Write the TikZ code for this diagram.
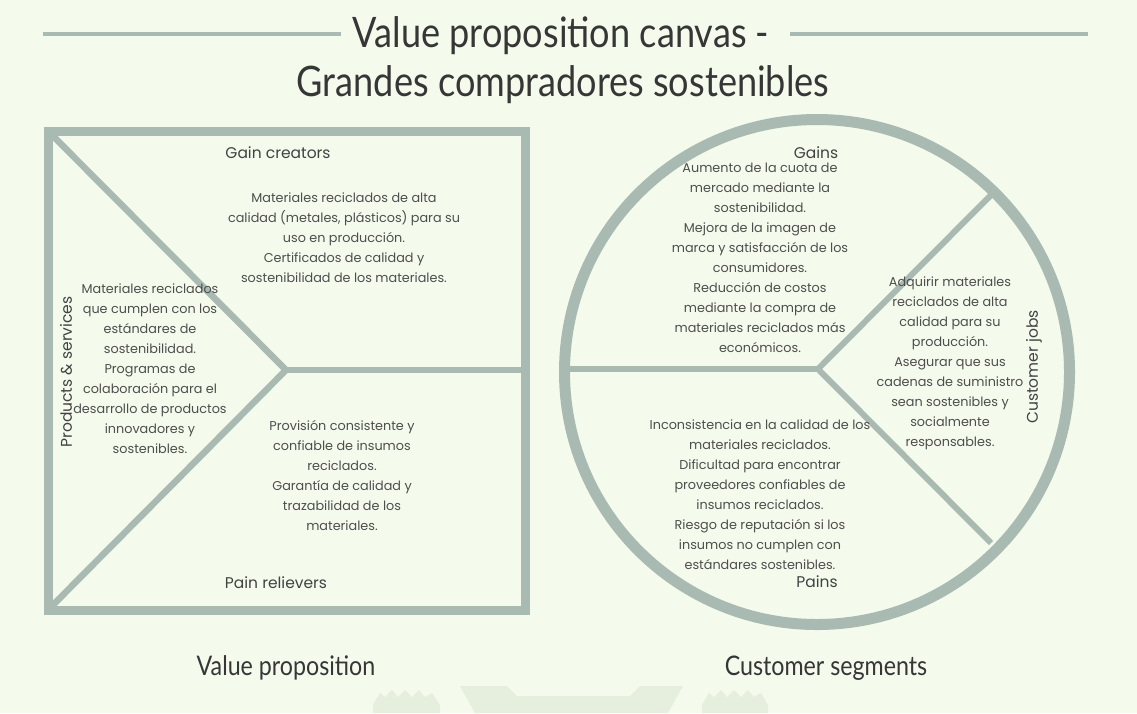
\documentclass[tikz,border=0pt]{standalone}
\usepackage{fontspec}
\setmainfont{Poppins}
\newfontfamily\titlefont{Lato}
\usetikzlibrary{positioning}
\definecolor{canvasbg}{HTML}{F4FAEC}
\definecolor{canvasline}{HTML}{A9BAB3}
\definecolor{canvastext}{HTML}{4E4E4E}
\definecolor{titletext}{HTML}{363636}
\definecolor{markfill}{HTML}{E6EEDD}

\begin{document}
\begin{tikzpicture}[x=1pt, y=-1pt,
  divider/.style={draw=canvasline, line width=6.5pt},
  blocktext/.style={align=center, text=canvastext, inner sep=0pt, font=\fontsize{12.8}{20}\selectfont},
  zonelabel/.style={text=canvastext!85!black, inner sep=0pt, font=\fontsize{15.5}{17}\selectfont},
  bigtitle/.style={text=titletext, inner sep=0pt, font=\titlefont\fontsize{42}{46}\selectfont},
  sectiontitle/.style={text=titletext, inner sep=0pt, font=\titlefont\fontsize{27}{30}\selectfont}]

\fill[canvasbg] (0,0) rectangle (1137,713);
\useasboundingbox (0,0) rectangle (1137,713);

% title
\node[bigtitle] (title) at (561,36) {\scalebox{0.86}[1]{Value proposition canvas -}};
\node[bigtitle] (subtitle) at (563,85) {\scalebox{0.86}[1]{Grandes compradores sostenibles}};
\coordinate (ruleLa) at (43,34);
\coordinate (ruleLb) at (341,34);
\coordinate (ruleRa) at (790,34);
\coordinate (ruleRb) at (1088,34);
\draw[canvasline, line width=3.5pt] (ruleLa) -- (ruleLb);
\draw[canvasline, line width=3.5pt] (ruleRa) -- (ruleRb);

% value proposition square
\coordinate (vpNW) at (48,131);
\coordinate (vpSE) at (525,610);
\draw[canvasline, line width=9pt] (vpNW) rectangle (vpSE);
\coordinate (vpTip) at (286,370);
\coordinate (vpTopIn) at (52,135);
\coordinate (vpBotIn) at (52,606);
\coordinate (vpRight) at (521,370);
\draw[divider] (vpTopIn) -- (vpTip) -- (vpBotIn);
\draw[divider] (vpTip) -- (vpRight);

% customer segment circle
\coordinate (csC) at (817,372);
\draw[canvasline, line width=11pt] (csC) circle (252.5);
\coordinate (csTip) at (818,369);
\coordinate (csLeft) at (568,369);
\coordinate (csUp) at (991,195);
\coordinate (csDown) at (991,543);
\draw[divider, line width=6pt] (csLeft) -- (csTip);
\draw[divider, line width=6pt] (csUp) -- (csTip) -- (csDown);

% labels
\node[zonelabel] (gaincreators) at (278,153) {Gain creators};
\node[zonelabel] (painrelievers) at (276,583) {Pain relievers};
\node[zonelabel, rotate=90] (products) at (66,372) {Products \& services};
\node[zonelabel] (gains) at (816,153) {Gains};
\node[zonelabel] (pains) at (817,582) {Pains};
\node[zonelabel, rotate=90] (jobs) at (1034,367) {Customer jobs};

% texts
\node[blocktext] (gaincreatorstext) at (344,238) {Materiales reciclados de alta\\calidad (metales, plásticos) para su\\uso en producción.\\Certificados de calidad y\\sostenibilidad de los materiales.};
\node[blocktext] (productstext) at (150,369) {Materiales reciclados\\que cumplen con los\\estándares de\\sostenibilidad.\\Programas de\\colaboración para el\\desarrollo de productos\\innovadores y\\sostenibles.};
\node[blocktext] (painrelieverstext) at (342,475) {Provisión consistente y\\confiable de insumos\\reciclados.\\Garantía de calidad y\\trazabilidad de los\\materiales.};
\node[blocktext] (gainstext) at (760,258) {Aumento de la cuota de\\mercado mediante la\\sostenibilidad.\\Mejora de la imagen de\\marca y satisfacción de los\\consumidores.\\Reducción de costos\\mediante la compra de\\materiales reciclados más\\económicos.};
\node[blocktext] (jobstext) at (950,363) {Adquirir materiales\\reciclados de alta\\calidad para su\\producción.\\Asegurar que sus\\cadenas de suministro\\sean sostenibles y\\socialmente\\responsables.};
\node[blocktext] (painstext) at (760,495) {Inconsistencia en la calidad de los\\materiales reciclados.\\Dificultad para encontrar\\proveedores confiables de\\insumos reciclados.\\Riesgo de reputación si los\\insumos no cumplen con\\estándares sostenibles.};

% section titles
\node[sectiontitle] (vptitle) at (286,668) {\scalebox{0.86}[1]{Value proposition}};
\node[sectiontitle] (cstitle) at (826,668) {\scalebox{0.86}[1]{Customer segments}};

% faint mark at the bottom
\fill[markfill] (373,705) -- (380,693) -- (385,697) -- (392,690) -- (398,697) -- (405,690) -- (412,697) -- (419,690) -- (425,697) -- (432,693) -- (440,705) -- (440,713) -- (373,713) -- cycle;
\fill[markfill] (702,705) -- (709,693) -- (714,697) -- (721,690) -- (727,697) -- (734,690) -- (741,697) -- (748,690) -- (754,697) -- (761,693) -- (768,705) -- (768,713) -- (702,713) -- cycle;
\fill[markfill] (460,686) -- (507,686) -- (517,696) -- (630,696) -- (640,686) -- (683,686) -- (668,713) -- (475,713) -- cycle;
\end{tikzpicture}
\end{document}
